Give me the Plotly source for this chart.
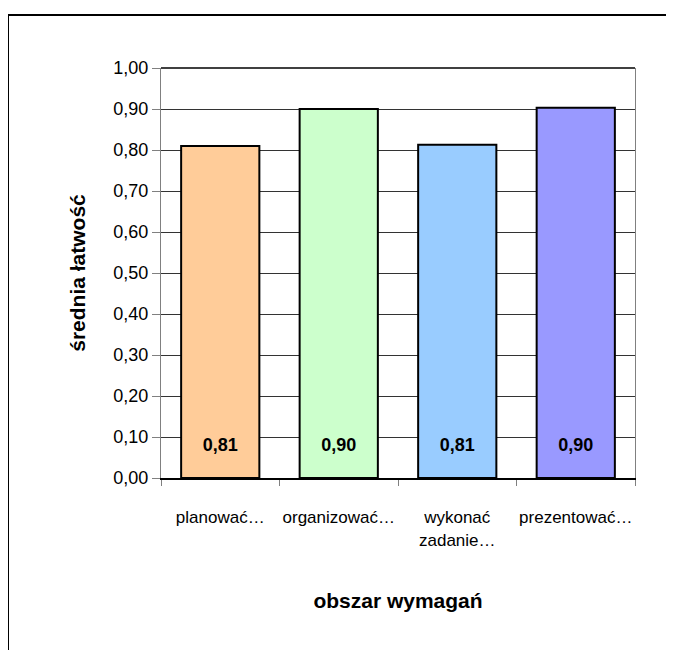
import plotly.graph_objects as go

categories = ["planować…", "organizować…", "wykonać<br>zadanie…", "prezentować…"]
values = [0.81, 0.90, 0.813, 0.903]
value_labels = ["0,81", "0,90", "0,81", "0,90"]
bar_colors = ["#FFCC99", "#CCFFCC", "#99CCFF", "#9999FF"]
y_ticks = [i / 10 for i in range(11)]
y_tick_labels = ["0,00", "0,10", "0,20", "0,30", "0,40", "0,50", "0,60", "0,70", "0,80", "0,90", "1,00"]

FONT = "Liberation Sans, Arial, sans-serif"

fig = go.Figure()
fig.add_trace(go.Bar(
    x=categories, y=values,
    marker=dict(color=bar_colors, line=dict(color="black", width=2)),
    width=0.66, hoverinfo="skip",
))
fig.add_trace(go.Scatter(
    x=categories, y=[0.076] * len(categories), text=value_labels,
    mode="text", textfont=dict(family=FONT, size=18, color="black", weight="bold"),
    hoverinfo="skip",
))

W, H = 674, 650
L, R, T, B = 153, 47, 60, 180
pw, ph = W - L - R, H - T - B

fig.update_layout(
    width=W, height=H,
    margin=dict(l=L, r=R, t=T, b=B),
    paper_bgcolor="white", plot_bgcolor="white",
    showlegend=False,
    font=dict(family=FONT, size=17, color="black"),
    xaxis=dict(
        type="category",
        showgrid=False,
        showline=True, linecolor="black", linewidth=2,
        ticks="outside", tickson="boundaries", ticklen=6, tickcolor="#808080",
        tickangle=0,
        ticklabelstandoff=23,
        tickfont=dict(family=FONT, size=17),
        title=dict(text="<b>obszar wymagań</b>", font=dict(family=FONT, size=21), standoff=45),
    ),
    yaxis=dict(
        range=[0, 1.0],
        tickvals=y_ticks, ticktext=y_tick_labels,
        showgrid=True, gridcolor="#333333", gridwidth=1,
        showline=True, linecolor="#808080", linewidth=1, mirror=True,
        ticks="outside", ticklen=8, tickcolor="#808080",
        tickfont=dict(family=FONT, size=18),
        zeroline=False,
        title=dict(text="<b>średnia łatwość</b>", font=dict(family=FONT, size=21), standoff=22),
    ),
    shapes=[
        dict(type="line", xref="paper", yref="paper", x0=0, x1=1, y0=1, y1=1,
             line=dict(color="black", width=1.5)),
        dict(type="rect", xref="paper", yref="paper",
             x0=(0 - L) / pw, x1=(W + 4 - L) / pw,
             y0=(H - B - (H + 4)) / ph, y1=(H - B - 7) / ph,
             line=dict(color="black", width=2), fillcolor="rgba(0,0,0,0)", layer="above"),
    ],
)

fig.write_html("out.html")
